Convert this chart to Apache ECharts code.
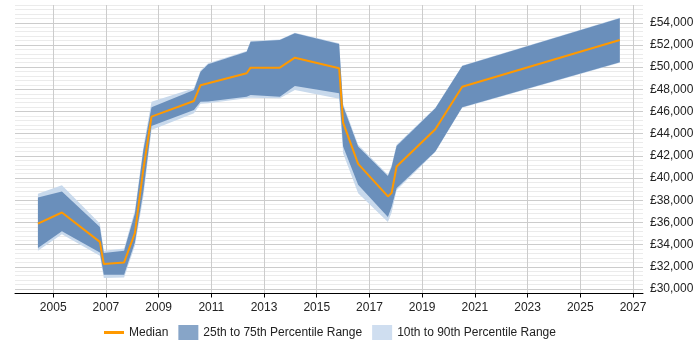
<!DOCTYPE html>
<html>
<head>
<meta charset="utf-8">
<script src="https://cdn.jsdelivr.net/npm/echarts@6/dist/echarts.min.js"></script>
<style>html,body{margin:0;padding:0;background:#fff}#c{width:700px;height:350px}</style>
</head>
<body>
<div id="c"></div>
<script>
// Data
const years  = [2004.42, 2005.33, 2006.77, 2006.92, 2007.69, 2008.1, 2008.42, 2008.73, 2010.34, 2010.59, 2010.88, 2012.34, 2012.49, 2013.6, 2014.17, 2015.85, 2016.0, 2016.57, 2017.7, 2017.84, 2018.03, 2019.5, 2020.52, 2026.5];
const median = [35900, 36900, 34250, 32250, 32400, 35050, 40800, 45540, 46950, 48370, 48540, 49450, 49950, 49950, 50850, 49900, 45000, 41280, 38350, 38650, 41040, 44400, 48240, 52440];
const p75    = [38250, 38800, 35600, 33250, 33450, 36800, 42500, 46390, 47940, 49590, 50250, 51390, 52290, 52440, 53050, 52080, 46500, 42840, 40200, 41000, 42900, 46300, 50100, 54400];
const p25    = [33700, 35200, 33300, 31300, 31300, 34200, 38800, 44700, 46140, 46890, 46900, 47340, 47500, 47340, 48300, 47650, 42840, 39390, 36500, 37400, 39090, 42400, 46390, 50440];
const p90    = [38600, 39350, 35900, 33450, 33650, 37100, 42800, 46890, 48100, 49700, 50350, 51450, 52350, 52500, 53100, 52150, 46700, 43000, 40300, 41150, 43000, 46350, 50150, 54450];
const p10    = [33450, 34950, 33000, 31000, 31050, 33900, 38300, 44340, 45850, 46700, 46750, 47200, 47250, 47200, 47950, 47150, 42250, 38640, 36050, 36900, 38900, 42350, 46350, 50400];
const xTicks = [2005, 2007, 2009, 2011, 2013, 2015, 2017, 2019, 2021, 2023, 2025, 2027];
const yLabelStep = 2000;

const FONT = 'Liberation Sans, Arial, sans-serif';
const DARK = '#6a8fbb';
const LIGHT = '#c8d9ec';
const ORANGE = '#ff9900';

function money(v) { return '£' + String(v).replace(/\B(?=(\d{3})+(?!\d))/g, ','); }

function bandSeries(name, lo, hi, color, z) {
  return {
    type: 'custom', name: name, z: z, silent: true,
    itemStyle: {color: color},
    data: years.map((y, i) => [y, lo[i], hi[i]]),
    encode: {x: 0, y: [1, 2]},
    renderItem: function (params, api) {
      if (params.dataIndex !== 0) return null;
      const pts = [];
      for (let i = 0; i < years.length; i++) pts.push(api.coord([years[i], hi[i]]));
      for (let i = years.length - 1; i >= 0; i--) pts.push(api.coord([years[i], lo[i]]));
      return {type: 'polygon', shape: {points: pts}, style: {fill: color, stroke: null}};
    }
  };
}

const chart = echarts.init(document.getElementById('c'), null, {renderer: 'canvas'});
chart.setOption({
  animation: false,
  textStyle: {fontFamily: FONT},
  grid: {left: 15, right: 57, top: 5, bottom: 56.5, containLabel: false},
  xAxis: {
    type: 'value', min: 2003.55, max: 2027.38,
    axisLine: {show: true, lineStyle: {color: '#000', width: 1}},
    axisTick: {show: true, length: 4, customValues: xTicks, lineStyle: {color: '#000'}},
    axisLabel: {customValues: xTicks, fontSize: 12, color: '#222', margin: 8, fontFamily: FONT,
                formatter: v => String(Math.round(v))},
    splitLine: {show: true, lineStyle: {color: '#cccccc', width: 1}}
  },
  yAxis: {
    type: 'value', position: 'right', min: 29600, max: 55600, interval: 400,
    axisLine: {show: false}, axisTick: {show: false},
    axisLabel: {
      fontSize: 12, color: '#222', margin: 7, fontFamily: FONT,
      formatter: v => (Math.round(v) % yLabelStep === 0 ? money(Math.round(v)) : '')
    },
    splitLine: {show: true, lineStyle: {color: ['#ebebeb', '#cccccc', '#ebebeb', '#ebebeb', '#ebebeb'], width: 1}}
  },
  legend: {
    left: 99, top: 320, itemWidth: 20, itemHeight: 15, itemGap: 10,
    textStyle: {fontSize: 12, color: '#222', fontFamily: FONT},
    data: [
      {name: 'Median', icon: 'path://M0,0 L20,0 L20,3 L0,3 Z', itemStyle: {color: ORANGE}},
      {name: '25th to 75th Percentile Range', icon: 'rect', itemStyle: {color: '#87a5c8'}},
      {name: '10th to 90th Percentile Range', icon: 'rect', itemStyle: {color: '#cfdef0'}}
    ]
  },
  series: [
    bandSeries('10th to 90th Percentile Range', p10, p90, LIGHT, 2),
    bandSeries('25th to 75th Percentile Range', p25, p75, DARK, 3),
    {type: 'line', name: 'Median', data: years.map((y, i) => [y, median[i]]), symbol: 'none', z: 5,
     itemStyle: {color: ORANGE}, lineStyle: {color: ORANGE, width: 2}}
  ]
});
</script>
</body>
</html>
